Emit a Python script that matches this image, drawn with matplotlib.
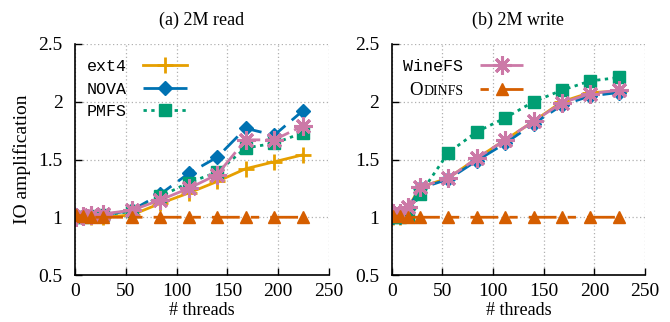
import matplotlib
matplotlib.use("Agg")
import matplotlib.pyplot as plt
from matplotlib.font_manager import FontProperties
from matplotlib.offsetbox import TextArea, HPacker

threads = [1, 8, 16, 28, 56, 84, 112, 140, 168, 196, 224]

read_ext4   = [1.00, 1.00, 1.00, 1.00, 1.02, 1.12, 1.21, 1.31, 1.42, 1.48, 1.54]
read_nova   = [1.00, 1.00, 1.01, 1.02, 1.06, 1.20, 1.38, 1.52, 1.77, 1.71, 1.92]
read_pmfs   = [1.00, 1.00, 1.01, 1.02, 1.05, 1.18, 1.30, 1.39, 1.60, 1.64, 1.73]
read_winefs = [1.00, 1.01, 1.02, 1.03, 1.06, 1.15, 1.25, 1.37, 1.67, 1.67, 1.79]
read_odinfs = [1.02, 1.01, 1.00, 1.00, 1.00, 1.00, 1.00, 1.00, 1.00, 1.00, 1.00]

write_ext4   = [1.00, 1.00, 1.08, 1.26, 1.34, 1.51, 1.67, 1.83, 2.00, 2.08, 2.09]
write_nova   = [1.00, 1.00, 1.07, 1.25, 1.33, 1.49, 1.64, 1.81, 1.97, 2.05, 2.08]
write_pmfs   = [1.00, 1.00, 1.02, 1.20, 1.56, 1.74, 1.86, 2.00, 2.10, 2.18, 2.21]
write_winefs = [1.04, 1.04, 1.09, 1.26, 1.34, 1.51, 1.67, 1.83, 1.99, 2.07, 2.10]
write_odinfs = [1.01, 1.01, 1.00, 1.00, 1.00, 1.00, 1.00, 1.00, 1.00, 1.00, 1.00]

titles = ["(a) 2M read", "(b) 2M write"]
xlabel = "# threads"
ylabel = "IO amplification"
names = ["ext4", "NOVA", "PMFS", "WineFS", "ODINFS"]

SERIF = "Liberation Serif"
MONO = "Liberation Mono"

styles = [
    dict(color="#E69F00", ls="-", marker="+", ms=12, mew=2.0),
    dict(color="#0072B2", ls=(0, (7, 3)), marker="D", ms=7, mew=1),
    dict(color="#009E73", ls=(0, (1.2, 1.6)), marker="s", ms=8.5, mew=1),
    dict(color="#CC79A7", ls=(0, (9, 2)), marker=(8, 2, 0), ms=13, mew=2.2),
    dict(color="#D55E00", ls=(0, (3, 4, 10, 4)), marker="^", ms=9, mew=1),
]

fig = plt.figure(figsize=(6.7, 3.22), dpi=100)
axL = fig.add_axes([75/670, 47/322, 254/670, 231/322])
axR = fig.add_axes([391.7/670, 47/322, 253.3/670, 231/322])

data = [
    [read_ext4, read_nova, read_pmfs, read_winefs, read_odinfs],
    [write_ext4, write_nova, write_pmfs, write_winefs, write_odinfs],
]

for ax, series, title in zip([axL, axR], data, titles):
    lines = []
    for ys, st, nm in zip(series, styles, names):
        ln, = ax.plot(threads, ys, color=st["color"], linestyle=st["ls"], lw=2,
                      marker=st["marker"], markersize=st["ms"], markeredgewidth=st["mew"],
                      markerfacecolor=st["color"], markeredgecolor=st["color"], label=nm)
        lines.append(ln)
    ax.set_xlim(0, 250)
    ax.set_ylim(0.5, 2.5)
    ax.set_xticks([0, 50, 100, 150, 200, 250])
    ax.set_yticks([0.5, 1, 1.5, 2, 2.5])
    ax.set_yticklabels(["0.5", "1", "1.5", "2", "2.5"])
    ax.grid(True, color="#b0b0b0", linestyle=(0, (1, 2)), linewidth=0.9)
    ax.set_axisbelow(True)
    for s in ["top", "right"]:
        ax.spines[s].set_visible(False)
    for s in ["left", "bottom"]:
        ax.spines[s].set_linewidth(1.2)
    ax.tick_params(direction="in", length=5, width=1, labelsize=14)
    ax.tick_params(axis="y", pad=9)
    ax.tick_params(axis="x", pad=6)
    for lab in ax.get_xticklabels() + ax.get_yticklabels():
        lab.set_fontfamily(SERIF)
    ax.set_xlabel(xlabel, fontsize=13, family=SERIF, labelpad=1)
    ax.set_title(title, fontsize=13, family=SERIF, pad=14)
    ax.lines_list = lines

axL.set_ylabel(ylabel, fontsize=14, family=SERIF, labelpad=5)

legL = axL.legend(handles=axL.lines_list[:3], loc="upper left", bbox_to_anchor=(0.0, 0.985),
                  frameon=False, markerfirst=False, handlelength=2.6, numpoints=1,
                  prop=FontProperties(family=MONO, size=12), labelspacing=0.45,
                  handletextpad=1.0, borderaxespad=0.3)

legR = axR.legend(handles=axR.lines_list[3:], labels=["WineFS", "O"],
                  loc="upper left", bbox_to_anchor=(0.0, 0.985),
                  frameon=False, markerfirst=False, handlelength=2.6, numpoints=1,
                  prop=FontProperties(family=MONO, size=12), labelspacing=0.45,
                  handletextpad=1.0, borderaxespad=0.3)

# Build the small-caps "ODINFS" label: big "O" followed by smaller "DINFS"
otext = legR.get_texts()[1]
for col in legR._legend_handle_box.get_children():
    for item in col.get_children():
        kids = item.get_children()
        if isinstance(kids[0], TextArea) and kids[0]._text is otext:
            big = TextArea("O", textprops=dict(family=SERIF, fontsize=13.5))
            small = TextArea("DINFS", textprops=dict(family=SERIF, fontsize=10))
            item._children[0] = HPacker(children=[big, small], sep=0.5, pad=0, align="baseline")
            item._children[0].set_figure(fig)
            big.set_figure(fig)
            small.set_figure(fig)
otext.set_visible(False)

fig.savefig("out.png", dpi=100)
